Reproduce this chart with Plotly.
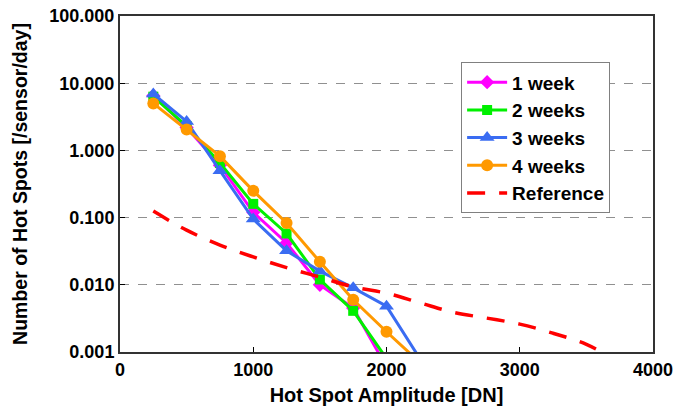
import plotly.graph_objects as go

amp = [250, 500, 750, 1000, 1250, 1500, 1750, 2000, 2250]
week1 = [6.5, 2.2, 0.60, 0.12, 0.042, 0.010, 0.0045, 0.0006]
week2 = [6.3, 2.3, 0.65, 0.16, 0.058, 0.012, 0.0041, 0.0008]
week3 = [6.9, 2.7, 0.50, 0.095, 0.032, 0.016, 0.0090, 0.0048, 0.0008]
week4 = [5.0, 2.05, 0.82, 0.25, 0.083, 0.022, 0.0060, 0.0020, 0.0007]

ref_amp = [250, 500, 750, 1000, 1250, 1500, 1750, 2000, 2250, 2500, 2750, 3000, 3250, 3500, 3750]
ref_val = [0.125, 0.065, 0.039, 0.026, 0.018, 0.013, 0.0093, 0.0075, 0.0054,
           0.0039, 0.0032, 0.0026, 0.0019, 0.0013, 0.0007]

ytick_vals = [0.001, 0.01, 0.1, 1, 10, 100]
ytick_text = ["0.001", "0.010", "0.100", "1.000", "10.000", "100.000"]
xtick_vals = [0, 1000, 2000, 3000, 4000]

FONT = "Liberation Sans, Arial, sans-serif"

fig = go.Figure()

series = [
    ("1 week", week1, "#FF00FF", "diamond", 11),
    ("2 weeks", week2, "#00F000", "square", 10),
    ("3 weeks", week3, "#3A6CF2", "triangle-up", 13),
    ("4 weeks", week4, "#FF9900", "circle", 12),
]
for name, vals, color, sym, size in series:
    fig.add_trace(go.Scatter(
        x=amp[:len(vals)], y=vals, name=name, mode="lines+markers",
        line=dict(color=color, width=3),
        marker=dict(symbol=sym, size=size, color=color),
    ))

fig.add_trace(go.Scatter(
    x=ref_amp, y=ref_val, name="Reference", mode="lines",
    line=dict(color="#FF0000", width=3.5, dash="18px,14px", shape="spline"),
))

fig.update_layout(
    width=686, height=409,
    margin=dict(l=120, r=33, t=16, b=57),
    paper_bgcolor="white", plot_bgcolor="white",
    font=dict(family=FONT, size=18, color="black", weight="bold"),
    showlegend=True,
    legend=dict(
        x=0.64, y=0.862, xanchor="left", yanchor="top",
        bgcolor="white", bordercolor="#808080", borderwidth=1,
        font=dict(family=FONT, size=19, color="black", weight="bold"),
        tracegroupgap=0, itemwidth=40,
    ),
)

fig.update_xaxes(
    range=[0, 4000], tickvals=xtick_vals, ticktext=[str(v) for v in xtick_vals],
    ticks="inside", ticklen=5, tickcolor="black", automargin=False,
    showline=True, linecolor="#333333", linewidth=2, mirror=True,
    showgrid=False, zeroline=False,
    title=dict(text="Hot Spot Amplitude [DN]", font=dict(family=FONT, size=20, weight="bold"), standoff=9),
    tickfont=dict(family=FONT, size=18, weight="bold"),
)
fig.update_yaxes(
    type="log", range=[-3, 2], tickvals=ytick_vals, ticktext=ytick_text,
    ticks="inside", ticklen=5, tickcolor="black", automargin=False,
    showline=True, linecolor="#333333", linewidth=2, mirror=True,
    showgrid=True, gridcolor="#909090", griddash="dash", gridwidth=1,
    zeroline=False,
    title=dict(text="Number of Hot Spots [/sensor/day]", font=dict(family=FONT, size=19.5, weight="bold"), standoff=16),
    tickfont=dict(family=FONT, size=18, weight="bold"),
)

fig.write_html("out.html", config={"displayModeBar": False})

# remove default page margin so the figure sits at the window origin
with open("out.html", "r", encoding="utf-8") as f:
    html = f.read()
html = html.replace("<body>", '<body style="margin:0;padding:0;overflow:hidden">', 1)
with open("out.html", "w", encoding="utf-8") as f:
    f.write(html)
